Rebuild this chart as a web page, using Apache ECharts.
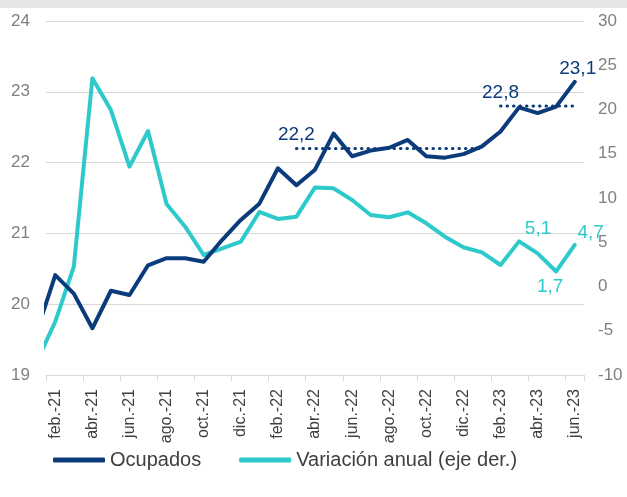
<!DOCTYPE html>
<html lang="es">
<head>
    <meta charset="UTF-8">
    <title>Ocupados</title>
    <script src="https://cdn.jsdelivr.net/npm/echarts@6/dist/echarts.min.js"></script>
    <style>
        html, body {margin: 0; padding: 0; background: #fff;}
        #chart {width: 627px; height: 497px;}
    </style>
</head>
<body>
<div id="chart"></div>
<script>
    // meses: ene.-21 queda fuera del eje (solo se ve el tramo recortado)
    const months = ['ene.-21', 'feb.-21', 'mar.-21', 'abr.-21', 'may.-21', 'jun.-21', 'jul.-21', 'ago.-21',
        'sep.-21', 'oct.-21', 'nov.-21', 'dic.-21', 'ene.-22', 'feb.-22', 'mar.-22', 'abr.-22', 'may.-22',
        'jun.-22', 'jul.-22', 'ago.-22', 'sep.-22', 'oct.-22', 'nov.-22', 'dic.-22', 'ene.-23', 'feb.-23',
        'mar.-23', 'abr.-23', 'may.-23', 'jun.-23'];

    // millones de ocupados (eje izq.)
    const ocupados = [19.61, 20.41, 20.15, 19.66, 20.19, 20.13, 20.55, 20.65, 20.65, 20.60, 20.91, 21.19,
        21.42, 21.92, 21.68, 21.90, 22.41, 22.09, 22.17, 22.21, 22.32, 22.09, 22.07, 22.12, 22.23, 22.44,
        22.78, 22.70, 22.79, 23.14];

    // variación anual % (eje der.)
    const variacion = [-8.5, -3.97, 2.24, 23.52, 19.94, 13.54, 17.57, 9.32, 6.76, 3.56, 4.31, 5.07,
        8.42, 7.63, 7.89, 11.2, 11.09, 9.77, 8.08, 7.82, 8.38, 7.14, 5.63, 4.43, 3.86, 2.43,
        5.1, 3.75, 1.7, 4.7];

    // medias (líneas punteadas)
    const media22 = [null, null, null, null, null, null, null, null, null, null, null, null,
        null, null, 22.2, 22.2, 22.2, 22.2, 22.2, 22.2, 22.2, 22.2, 22.2, 22.2, 22.2, null,
        null, null, null, null];
    const media23 = [null, null, null, null, null, null, null, null, null, null, null, null,
        null, null, null, null, null, null, null, null, null, null, null, null, null, 22.8,
        22.8, 22.8, 22.8, 22.8];

    const leftTicks = [19, 24, 1];
    const rightTicks = [-10, 30, 5];

    const NAVY = '#0b3b7a';
    const AQUA = '#2ec9ca';

    function fmt(v) {
        return v.toFixed(1).replace('.', ',');
    }

    // etiquetas de datos puntuales
    function withLabels(values, labels) {
        return values.map(function (v, i) {
            if (!labels[i]) return v;
            return {value: v, label: Object.assign({show: true, formatter: fmt(v)}, labels[i])};
        });
    }

    function firstLabel(values) {
        return values.map(function (v, i) {
            if (v != null && (i === 0 || values[i - 1] == null)) {
                return {value: v, label: {show: true, position: 'top', distance: 4, formatter: fmt(v)}};
            }
            return v;
        });
    }

    // un mes sí, otro no, empezando en feb.-21
    function everyOther(index) {
        return index % 2 === 1;
    }

    const labelFont = {fontFamily: 'Liberation Sans', fontSize: 19};
    const hiddenSymbol = {symbol: 'circle', symbolSize: 0.1, showSymbol: true, showAllSymbol: true};

    const chart = echarts.init(document.getElementById('chart'), null, {renderer: 'canvas'});

    const option = {
        animation: false,
        backgroundColor: '#fff',
        textStyle: {fontFamily: 'Liberation Sans'},
        graphic: [{
            type: 'rect', left: 0, top: 0,
            shape: {width: 627, height: 8},
            style: {fill: '#e6e6e6'}
        }],
        grid: {left: 46, right: 43, top: 21, bottom: 122},
        legend: {
            data: ['Ocupados', 'Variación anual (eje der.)'],
            left: 48, bottom: 22,
            icon: 'roundRect', itemWidth: 52, itemHeight: 5, itemGap: 38,
            textStyle: {color: '#404040', fontSize: 20, fontFamily: 'Liberation Sans'}
        },
        xAxis: {
            type: 'category',
            data: months,
            min: 1,
            boundaryGap: true,
            axisLine: {onZero: false, lineStyle: {color: '#d9d9d9'}},
            axisTick: {show: true, interval: everyOther, length: 6, lineStyle: {color: '#d9d9d9'}},
            axisLabel: {interval: everyOther, rotate: 90, margin: 14, color: '#404040', fontSize: 16}
        },
        yAxis: [{
            type: 'value',
            min: leftTicks[0], max: leftTicks[1], interval: leftTicks[2],
            axisLine: {show: false}, axisTick: {show: false},
            axisLabel: {color: '#808080', fontSize: 17, margin: 16},
            splitLine: {lineStyle: {color: '#d9d9d9'}}
        }, {
            type: 'value',
            position: 'right',
            min: rightTicks[0], max: rightTicks[1], interval: rightTicks[2],
            axisLine: {show: false}, axisTick: {show: false},
            axisLabel: {color: '#808080', fontSize: 17, margin: 14},
            splitLine: {show: false}
        }],
        series: [Object.assign({
            name: 'Ocupados',
            type: 'line',
            yAxisIndex: 0,
            z: 4,
            lineStyle: {color: NAVY, width: 4, join: 'round', cap: 'round'},
            itemStyle: {color: NAVY},
            label: Object.assign({color: NAVY}, labelFont),
            data: withLabels(ocupados, {29: {position: 'top', distance: 4, offset: [3, 0]}})
        }, hiddenSymbol), Object.assign({
            name: 'Variación anual (eje der.)',
            type: 'line',
            yAxisIndex: 1,
            z: 3,
            lineStyle: {color: AQUA, width: 4, join: 'round', cap: 'round'},
            itemStyle: {color: AQUA},
            label: Object.assign({color: AQUA}, labelFont),
            data: withLabels(variacion, {
                26: {position: 'top', distance: 3, offset: [19, 0]},
                28: {position: 'bottom', distance: 6, offset: [-6, 0]},
                29: {position: 'top', distance: 3, offset: [16, 0]}
            })
        }, hiddenSymbol), Object.assign({
            name: 'media22',
            type: 'line',
            yAxisIndex: 0,
            z: 2,
            lineStyle: {color: NAVY, width: 3, type: [0.5, 6], cap: 'round'},
            itemStyle: {color: NAVY},
            label: Object.assign({color: NAVY}, labelFont),
            data: firstLabel(media22)
        }, hiddenSymbol), Object.assign({
            name: 'media23',
            type: 'line',
            yAxisIndex: 0,
            z: 2,
            lineStyle: {color: NAVY, width: 3, type: [0.5, 6], cap: 'round'},
            itemStyle: {color: NAVY},
            label: Object.assign({color: NAVY}, labelFont),
            data: firstLabel(media23)
        }, hiddenSymbol)]
    };

    chart.setOption(option);
</script>
</body>
</html>
